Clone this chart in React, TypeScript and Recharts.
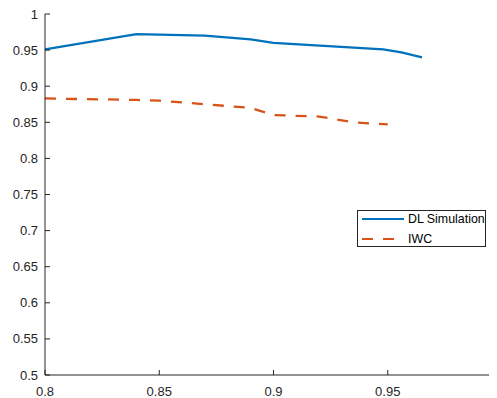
import React from 'react';
import {LineChart, Line, XAxis, YAxis} from 'recharts';

const xTicks = [0.8, 0.85, 0.9, 0.95];
const yTicks = [0.5, 0.55, 0.6, 0.65, 0.7, 0.75, 0.8, 0.85, 0.9, 0.95, 1];

const dlX = [0.8, 0.84, 0.87, 0.89, 0.9, 0.948, 0.956, 0.965];
const dlY = [0.951, 0.972, 0.970, 0.965, 0.960, 0.951, 0.947, 0.940];

const iwcX = [0.8, 0.84, 0.85, 0.87, 0.89, 0.9, 0.92, 0.935, 0.95];
const iwcY = [0.883, 0.881, 0.880, 0.875, 0.870, 0.860, 0.858, 0.850, 0.847];

const dlData = dlX.map((x, i) => ({x, y: dlY[i]}));
const iwcData = iwcX.map((x, i) => ({x, y: iwcY[i]}));

const AXIS = '#262626';
const FONT = '"Liberation Sans", Arial, Helvetica, sans-serif';
const fmt = (v: number) => String(Number(v.toFixed(2)));

const BottomTick = (props: any) => {
    const {x, y, payload} = props;
    return (
        <g>
            <line x1={x} x2={x} y1={y} y2={y - 5} stroke={AXIS} strokeWidth={1}/>
            <text x={x} y={y + 21} textAnchor="middle" fontSize={13} fill={AXIS} fontFamily={FONT}>
                {fmt(payload.value)}
            </text>
        </g>
    );
};

const TopTick = (props: any) => {
    const {x, y} = props;
    return <line x1={x} x2={x} y1={y} y2={y + 5} stroke={AXIS} strokeWidth={1}/>;
};

const LeftTick = (props: any) => {
    const {x, y, payload} = props;
    return (
        <g>
            <line x1={x} x2={x + 5} y1={y} y2={y} stroke={AXIS} strokeWidth={1}/>
            <text x={x - 7} y={y + 4.5} textAnchor="end" fontSize={13} fill={AXIS} fontFamily={FONT}>
                {fmt(payload.value)}
            </text>
        </g>
    );
};

const LegendBox = () => (
    <svg width={130} height={38} style={{display: 'block'}}>
        <rect x={0.5} y={0.5} width={128} height={36} fill="#fff" stroke={AXIS} strokeWidth={1}/>
        <line x1={5} x2={47} y1={9} y2={9} stroke="#0072BD" strokeWidth={2.2}/>
        <text x={51} y={13.3} fontSize={12.4} fill="#000" fontFamily={FONT}>DL Simulation</text>
        <line x1={5} x2={47} y1={29} y2={29} stroke="#D95319" strokeWidth={2.2} strokeDasharray="11 10"/>
        <text x={51} y={33.3} fontSize={12.4} fill="#000" fontFamily={FONT}>IWC</text>
    </svg>
);

export default function App() {
    return (
        <div style={{position: 'relative', width: 489, height: 390, overflow: 'hidden', background: '#fff'}}>
            <LineChart width={520} height={390} margin={{top: 6, right: 26, bottom: 0, left: 0}}>
                <XAxis
                    xAxisId="bottom"
                    type="number"
                    dataKey="x"
                    domain={[0.8, 1]}
                    ticks={xTicks}
                    interval={0}
                    height={23}
                    tickSize={0}
                    tickMargin={0}
                    stroke={AXIS}
                    tick={<BottomTick/>}
                />
                <XAxis
                    xAxisId="top"
                    orientation="top"
                    type="number"
                    dataKey="x"
                    domain={[0.8, 1]}
                    ticks={xTicks}
                    interval={0}
                    height={0}
                    tickSize={0}
                    tickMargin={0}
                    stroke={AXIS}
                    tick={<TopTick/>}
                />
                <YAxis
                    type="number"
                    domain={[0.5, 1]}
                    ticks={yTicks}
                    interval={0}
                    width={37}
                    tickSize={0}
                    tickMargin={0}
                    stroke={AXIS}
                    tick={<LeftTick/>}
                />
                <Line
                    xAxisId="bottom"
                    data={dlData}
                    dataKey="y"
                    name="DL Simulation"
                    stroke="#0072BD"
                    strokeWidth={2.3}
                    dot={false}
                    isAnimationActive={false}
                />
                <Line
                    xAxisId="bottom"
                    data={iwcData}
                    dataKey="y"
                    name="IWC"
                    stroke="#D95319"
                    strokeWidth={2.3}
                    strokeDasharray="11 10"
                    dot={false}
                    isAnimationActive={false}
                />
            </LineChart>
            <div style={{position: 'absolute', left: 349, top: 202}}>
                <LegendBox/>
            </div>
        </div>
    );
}
